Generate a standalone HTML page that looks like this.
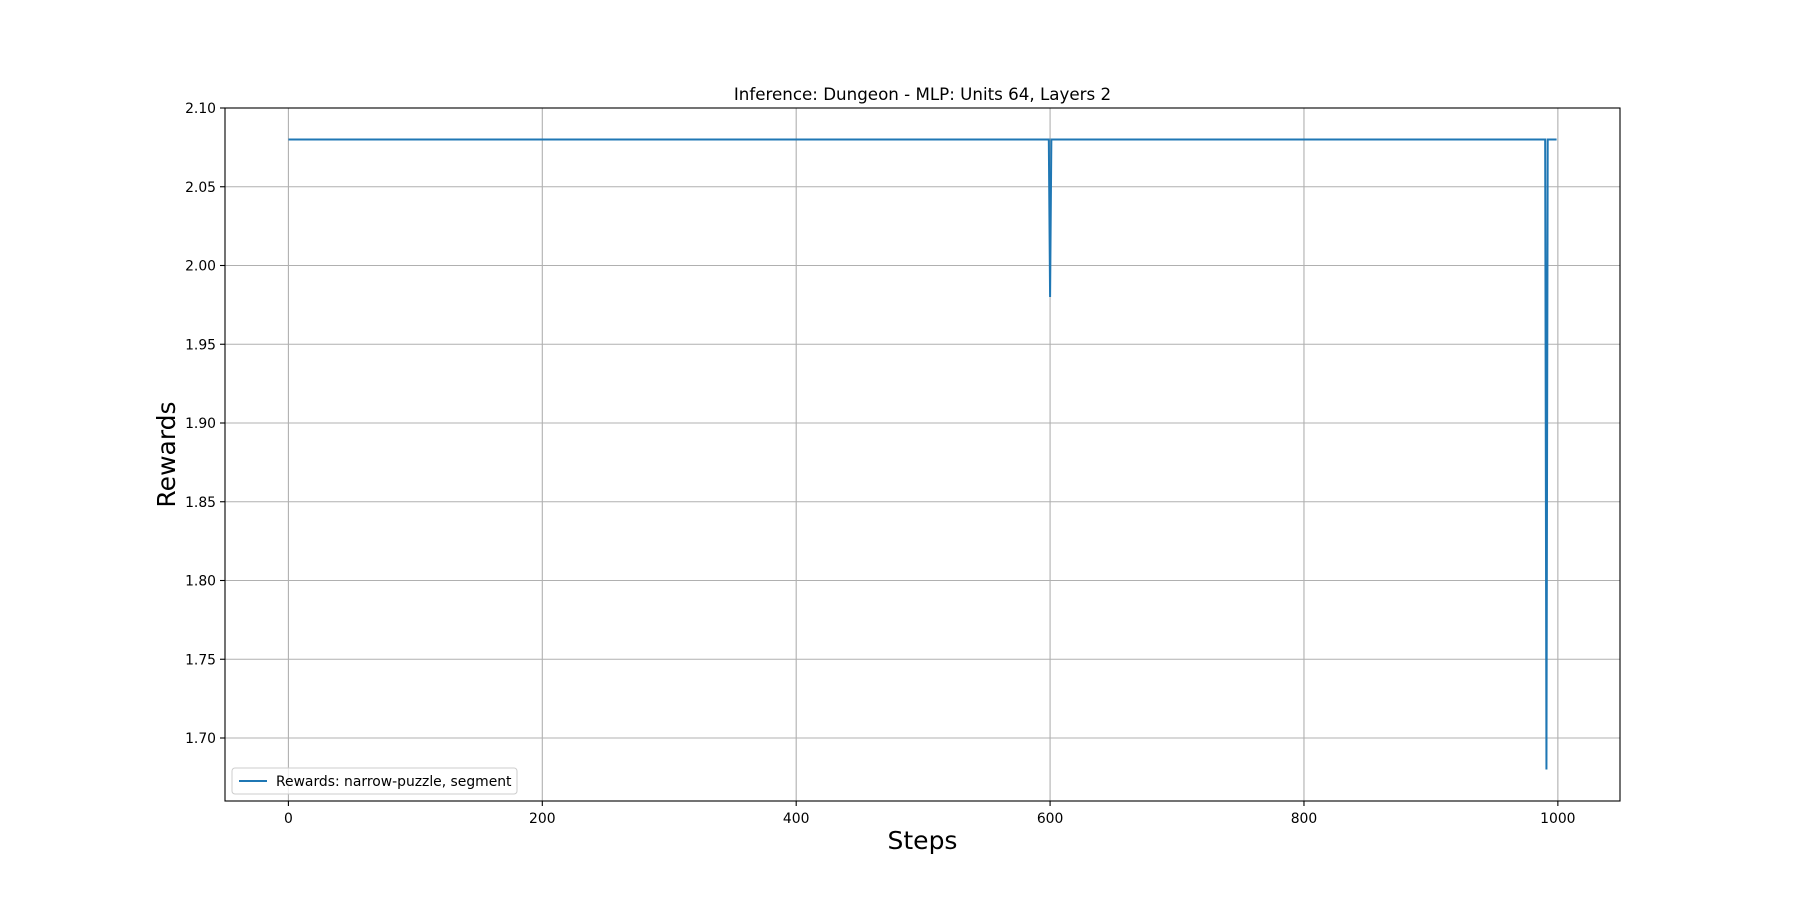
<!DOCTYPE html>
<html><head><meta charset="utf-8"><style>
body{margin:0;background:#fff}
svg text{font-family:"DejaVu Sans","Liberation Sans",sans-serif;fill:#000}
</style></head><body>
<svg id="chart" width="1800" height="900" xmlns="http://www.w3.org/2000/svg">
<rect width="1800" height="900" fill="#fff"/>
<g id="grid"></g>
<g id="series"></g>
<rect x="225" y="108" width="1395" height="693" fill="none" stroke="#000" stroke-width="1.1"/>
<g id="ticks"></g>
<text x="922.5" y="100" text-anchor="middle" font-size="16.7">Inference: Dungeon - MLP: Units 64, Layers 2</text>
<text x="922.5" y="849" text-anchor="middle" font-size="25">Steps</text>
<text transform="translate(175,454.5) rotate(-90)" text-anchor="middle" font-size="25">Rewards</text>
<g>
<rect x="232" y="768" width="285" height="26" rx="3" fill="#fff" stroke="#ccc" stroke-width="1" fill-opacity="0.8"/>
<line x1="239" y1="781" x2="267" y2="781" stroke="#1f77b4" stroke-width="2"/>
<text x="276" y="786" font-size="13.9">Rewards: narrow-puzzle, segment</text>
</g>
</svg>
<script>
const steps=[0,599,600,601,990,991,992,999];
const rewards=[2.08,2.08,1.98,2.08,2.08,1.68,2.08,2.08];
const xTicks=[0,200,400,600,800,1000];
const yTicks=[1.70,1.75,1.80,1.85,1.90,1.95,2.00,2.05,2.10];
const L=225,R=1620,T=108,B=801;
const xmin=-49.95,xmax=1048.95,ymin=1.66,ymax=2.10;
const xs=v=>L+(v-xmin)/(xmax-xmin)*(R-L);
const ys=v=>B-(v-ymin)/(ymax-ymin)*(B-T);
const NS="http://www.w3.org/2000/svg";
function mk(t,a,p){const e=document.createElementNS(NS,t);for(const k in a)e.setAttribute(k,a[k]);p.appendChild(e);return e;}
const g=document.getElementById('grid'),tk=document.getElementById('ticks'),s=document.getElementById('series');
xTicks.forEach(v=>{const x=xs(v);
const gl=mk('line',{x1:x,x2:x,y1:T,y2:B,stroke:'#b0b0b0','stroke-width':1.1},g);


mk('line',{x1:x,x2:x,y1:B,y2:B+5,stroke:'#000','stroke-width':1.1},tk);
const t=mk('text',{x:x,y:B+22,'text-anchor':'middle','font-size':13.9},tk);t.textContent=v;

});
yTicks.forEach(v=>{const y=ys(v);
const gl=mk('line',{x1:L,x2:R,y1:y,y2:y,stroke:'#b0b0b0','stroke-width':1.1},g);


mk('line',{x1:L-5,x2:L,y1:y,y2:y,stroke:'#000','stroke-width':1.1},tk);
const t=mk('text',{x:L-9,y:y+5,'text-anchor':'end','font-size':13.9},tk);t.textContent=v.toFixed(2);

});
const pts=steps.map((v,i)=>xs(v).toFixed(2)+','+ys(rewards[i]).toFixed(2)).join(' ');
const pl=mk('polyline',{points:pts,fill:'none',stroke:'#1f77b4','stroke-width':2},s);


</script>
</body></html>
